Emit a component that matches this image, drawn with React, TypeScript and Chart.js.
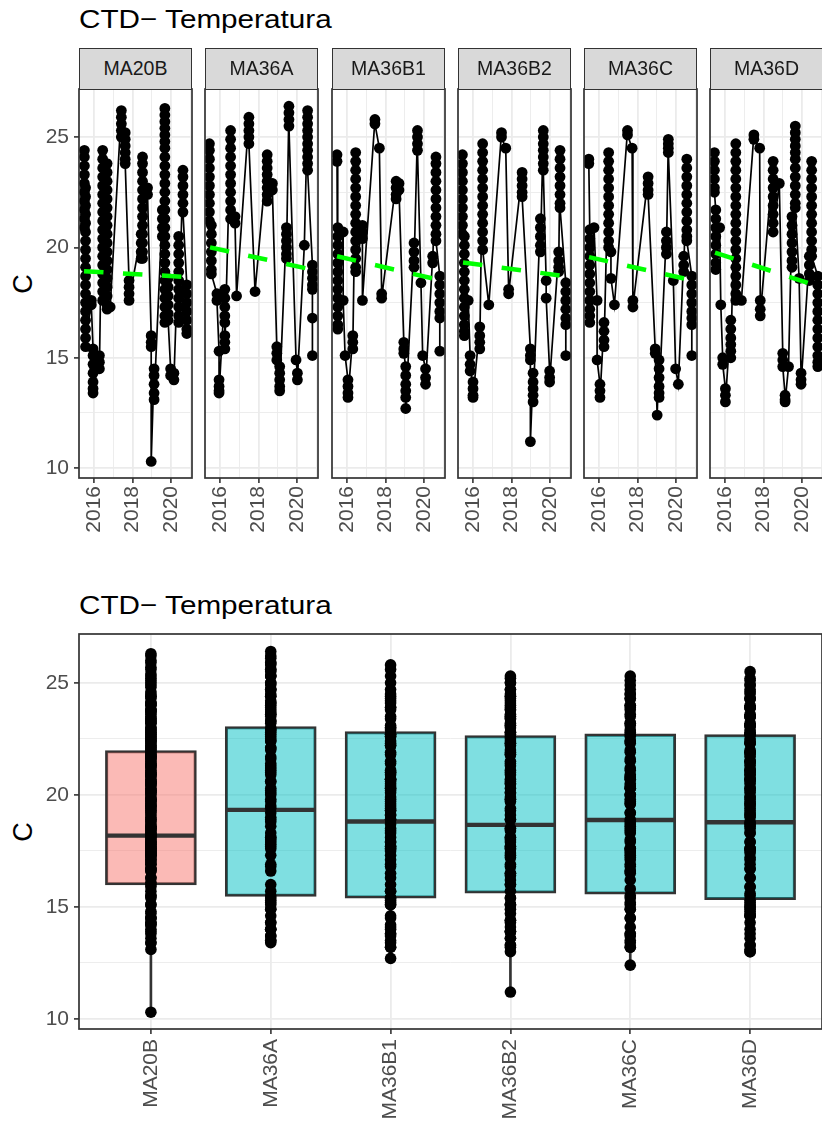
import React, { useEffect, useRef } from 'react';
import { Chart, registerables } from 'chart.js';

Chart.register(...registerables);

const FONT = '"Liberation Sans", Arial, Helvetica, sans-serif';

const stations = ['MA20B', 'MA36A', 'MA36B1', 'MA36B2', 'MA36C', 'MA36D'];
const titleText = 'CTD\u2212 Temperatura';
const yAxisTitle = 'C';

// ---- time series (decimal year of each CTD cast, temperatures of that cast) ----
const ma20bDates = [2015.50, 2015.56, 2015.86, 2015.95, 2016.28, 2016.45, 2016.68, 2016.84, 2017.42, 2017.62, 2017.82, 2018.45, 2018.52, 2018.78, 2018.97, 2019.12, 2019.55, 2019.68, 2019.85, 2019.98, 2020.15, 2020.40, 2020.62, 2020.82];
const ma20bTemps = [
  [24.4, 24.1, 23.7, 23.3, 22.9, 22.5, 22.1, 21.7, 21.3, 20.9],
  [22.7, 22.3, 21.9, 21.5, 21.1, 20.7, 20.3, 19.9, 19.5, 19.1, 18.7, 18.3, 17.9, 17.5, 17.1, 16.7, 16.3, 15.9, 15.5],
  [17.6, 17.4],
  [15.4, 15.1, 14.7, 14.3, 13.9, 13.6, 13.4],
  [15.1, 14.8, 14.5],
  [24.4, 24.0, 23.6, 23.2, 22.8, 22.4, 22.0, 21.6, 21.2, 20.8, 20.4, 20.0, 19.6, 19.2, 18.8, 18.4, 18.0, 17.6],
  [23.8, 23.4, 23.0, 22.6, 22.2, 21.8, 21.4, 21.0, 20.6, 20.2, 19.8, 19.4, 19.0, 18.6, 18.2, 17.8, 17.4, 17.2],
  [17.3],
  [26.2, 25.9, 25.6, 25.3, 25.0],
  [25.2, 24.9, 24.6, 24.3, 24.0, 23.8],
  [18.5, 18.2, 17.9, 17.6],
  [20.6, 20.2, 19.8, 19.5],
  [24.1, 23.8, 23.4, 23.0, 22.6, 22.2, 21.8, 21.4, 21.0, 20.6, 20.2, 19.8, 19.5],
  [22.7, 22.4],
  [16.0, 15.7, 15.5, 10.3],
  [14.5, 14.2, 13.8, 13.4, 13.1],
  [21.7, 21.3, 20.9, 20.5],
  [26.3, 26.0, 25.7, 25.4, 25.1, 24.8, 24.5, 24.1, 23.7, 23.3, 22.9, 22.5, 22.1, 21.7, 21.3, 20.9, 20.5, 20.1, 19.7, 19.3, 18.9, 18.5, 18.1, 17.7, 17.3, 16.9, 16.6],
  [18.6, 18.2, 17.8, 17.4, 17.0, 16.7],
  [14.5, 14.2],
  [14.3, 14.0],
  [20.5, 20.1, 19.7, 19.3, 18.9, 18.5, 18.1, 17.7, 17.3, 16.9, 16.6],
  [23.5, 23.2, 22.8, 22.4, 22.0, 21.6],
  [18.3, 17.9, 17.5, 17.1, 16.7, 16.3, 16.1],
];

const ma36aDates = [2015.45, 2015.55, 2015.84, 2015.95, 2016.25, 2016.55, 2016.78, 2016.86, 2017.50, 2017.82, 2018.45, 2018.72, 2018.95, 2019.10, 2019.45, 2019.58, 2019.95, 2020.02, 2020.38, 2020.55, 2020.80];
const ma36aTemps = [
  [24.7, 24.4, 24.0, 23.6, 23.2, 22.8, 22.4, 22.0, 21.6, 21.2],
  [21.0, 20.6, 20.2, 19.8, 19.4, 19.0, 18.8],
  [17.9, 17.6],
  [15.3, 14.0, 13.7, 13.5, 13.4],
  [18.1, 17.7, 17.3, 16.9, 16.6, 16.0, 15.7, 15.4],
  [25.3, 24.9, 24.5, 24.1, 23.7, 23.3, 22.9, 22.5, 22.1, 21.7, 21.3],
  [21.4, 21.1],
  [17.8],
  [25.9, 25.6, 25.3, 25.0, 24.7],
  [18.0],
  [24.2, 23.9, 23.6, 23.3, 23.0, 22.7, 22.4, 22.1],
  [22.9, 22.6],
  [15.5, 15.2, 14.9],
  [14.6, 14.3, 14.0, 13.7, 13.5],
  [20.9, 20.6, 20.3, 20.0, 19.7, 19.5],
  [26.4, 26.1, 25.8, 25.5],
  [14.9],
  [14.3, 14.0],
  [20.1],
  [26.2, 25.9, 25.6, 25.3, 25.0, 24.7, 24.4, 24.1, 23.8, 23.5],
  [19.2, 18.9, 18.6, 18.3, 18.1, 16.8, 15.1],
];

const ma36b1Dates = [2015.48, 2015.52, 2015.80, 2015.90, 2016.05, 2016.30, 2016.45, 2016.80, 2017.45, 2017.68, 2017.80, 2018.55, 2018.70, 2018.95, 2019.05, 2019.48, 2019.66, 2019.84, 2019.93, 2020.08, 2020.45, 2020.62, 2020.82];
const ma36b1Temps = [
  [24.2, 23.9],
  [20.9, 20.5, 20.1, 19.7, 19.3, 18.9, 18.5, 18.1, 17.7, 17.3, 16.9, 16.5, 16.3],
  [20.7, 17.6],
  [15.1],
  [14.0, 13.7, 13.4, 13.2],
  [16.0, 15.7, 15.4],
  [24.3, 23.9, 23.5, 23.1, 22.7, 22.3, 21.9, 21.5, 21.1, 20.7, 20.3, 19.9, 19.5, 19.1, 18.9],
  [21.0, 20.7, 20.4, 17.6],
  [25.8, 25.6],
  [24.5],
  [17.9, 17.7],
  [23.0, 22.7, 22.4, 22.2],
  [22.9, 22.6],
  [15.7, 15.4, 15.2],
  [14.6, 14.2, 13.8, 13.5, 13.2, 12.7],
  [20.2, 19.8, 19.4, 19.1],
  [25.3, 25.0, 24.7, 24.4],
  [18.4],
  [15.1],
  [14.5, 14.1, 13.8],
  [19.6, 19.3],
  [24.1, 23.8, 23.4, 23.0, 22.6, 22.2, 21.8, 21.4, 21.0, 20.6, 20.3],
  [18.7, 18.3, 17.9, 17.5, 17.1, 16.8, 15.3],
];

const ma36b2Dates = [2015.45, 2015.55, 2015.75, 2015.85, 2016.00, 2016.35, 2016.50, 2016.82, 2017.48, 2017.70, 2017.85, 2018.55, 2018.98, 2019.12, 2019.50, 2019.65, 2019.80, 2019.98, 2020.45, 2020.52, 2020.82];
const ma36b2Temps = [
  [24.2, 23.8, 23.4, 23.0, 22.6, 22.2, 21.8, 21.4, 21.0, 20.6],
  [20.5, 20.1, 19.7, 19.3, 18.9, 18.5, 18.1, 17.7, 17.3, 16.9, 16.5, 16.2, 16.0],
  [17.6],
  [15.1, 14.7, 14.4],
  [13.9, 13.6, 13.3, 13.2],
  [16.4, 16.0, 15.7, 15.4],
  [24.7, 24.3, 23.9, 23.5, 23.1, 22.7, 22.3, 21.9, 21.5, 21.1, 20.7, 20.3, 19.9],
  [17.4],
  [25.2, 25.0],
  [24.5],
  [18.1, 17.9],
  [23.4, 23.1, 22.8, 22.5, 22.3],
  [15.4, 15.1, 14.9, 11.2],
  [14.3, 13.9, 13.6, 13.3, 13.0],
  [21.3, 20.9, 20.5, 20.1, 19.8],
  [25.3, 25.0, 24.7, 24.4, 24.1, 23.8, 23.5],
  [18.5, 17.7],
  [14.4, 14.1, 13.9],
  [19.8, 19.4, 19.1, 18.9],
  [24.4, 24.0, 23.6, 23.2, 22.8, 22.4, 22.0, 21.8],
  [18.4, 18.0, 17.6, 17.2, 16.8, 16.5, 15.1],
];

const ma36cDates = [2015.47, 2015.52, 2015.74, 2015.90, 2016.05, 2016.26, 2016.50, 2016.62, 2016.80, 2017.48, 2017.72, 2017.76, 2018.55, 2018.92, 2019.02, 2019.12, 2019.50, 2019.60, 2019.86, 2019.98, 2020.12, 2020.40, 2020.56, 2020.82];
const ma36cTemps = [
  [24.0, 23.8],
  [20.8, 20.4, 20.0, 19.6, 19.2, 18.8, 18.4, 18.0, 17.6, 17.2, 16.9, 16.6],
  [20.9],
  [17.6, 14.9],
  [13.8, 13.5, 13.2],
  [16.6, 16.2, 15.8, 15.5],
  [24.3, 23.9, 23.5, 23.1, 22.7, 22.3, 21.9, 21.5, 21.1, 20.7, 20.3, 20.0],
  [19.8, 18.6],
  [17.4],
  [25.3, 25.1],
  [24.5],
  [17.6, 17.3],
  [23.2, 22.9, 22.6, 22.4],
  [15.4, 15.2],
  [12.4],
  [14.9, 14.5, 14.1, 13.7, 13.4, 13.2],
  [20.7, 20.3, 20.0, 19.7],
  [24.9, 24.7, 24.5, 24.3],
  [18.5],
  [14.5],
  [13.8],
  [19.6, 19.2, 18.9],
  [24.0, 23.6, 23.2, 22.8, 22.4, 22.0, 21.6, 21.2, 20.8, 20.5, 20.3],
  [18.7, 18.3, 17.9, 17.5, 17.1, 16.8, 16.5, 15.1],
];

const ma36dDates = [2015.45, 2015.52, 2015.72, 2015.78, 2015.88, 2016.02, 2016.30, 2016.56, 2016.85, 2017.50, 2017.80, 2017.83, 2018.50, 2018.82, 2019.00, 2019.12, 2019.30, 2019.48, 2019.65, 2019.85, 2019.95, 2020.38, 2020.50, 2020.82];
const ma36dTemps = [
  [24.3, 23.9, 23.5, 23.1, 22.7, 22.5],
  [21.7, 21.3, 20.9, 20.5, 20.1, 19.7, 19.3, 19.0],
  [20.9],
  [17.4],
  [15.0, 14.7],
  [13.6, 13.3, 13.0],
  [16.7, 16.3, 15.9, 15.6, 15.3, 15.0],
  [24.7, 24.3, 23.9, 23.5, 23.1, 22.7, 22.3, 21.9, 21.5, 21.1, 20.7, 20.3, 19.9, 19.5, 19.1, 18.7, 18.3, 17.9, 17.6],
  [17.6],
  [25.1, 24.9],
  [24.5],
  [17.6, 17.2, 16.9],
  [23.9, 23.5, 23.1, 22.7, 22.3, 21.9, 21.5, 21.1, 20.7],
  [22.9],
  [15.2, 14.9, 14.6],
  [13.3, 13.1, 13.0],
  [14.6],
  [21.4, 21.0, 20.6, 20.2, 19.8, 19.4, 19.1],
  [25.5, 25.2, 24.9, 24.6, 24.3, 24.0, 23.6, 23.2, 22.8, 22.4, 22.0, 21.8],
  [18.6],
  [14.3, 14.0, 13.8],
  [19.6, 19.2, 18.8, 18.5],
  [23.9, 23.5, 23.1, 22.7, 22.3, 21.9, 21.5, 21.1, 20.7, 20.3, 19.9, 19.6],
  [18.7, 18.3, 17.9, 17.5, 17.1, 16.7, 16.3, 15.9, 15.5, 15.1, 14.8, 14.6],
];

const stationDates = [ma20bDates, ma36aDates, ma36b1Dates, ma36b2Dates, ma36cDates, ma36dDates];
const stationTemps = [ma20bTemps, ma36aTemps, ma36b1Temps, ma36b2Temps, ma36cTemps, ma36dTemps];

// ---- linear trend (green dashed), value at first and last cast ----
const trendYears = [2015.48, 2020.82];
const trendStart = [18.92, 20.0, 19.6, 19.32, 19.56, 19.76];
const trendEnd = [18.66, 18.99, 18.52, 18.69, 18.51, 18.25];

// ---- boxplot statistics ----
const boxMin = [10.3, 13.4, 12.7, 11.2, 12.4, 13.0];
const boxQ1 = [15.98, 15.47, 15.39, 15.61, 15.57, 15.32];
const boxMedian = [18.18, 19.33, 18.81, 18.66, 18.88, 18.78];
const boxQ3 = [21.98, 23.05, 22.83, 22.65, 22.72, 22.69];
const boxMax = [26.3, 26.4, 25.8, 25.3, 25.3, 25.5];
const boxFill = ['rgba(248,118,109,0.5)', 'rgba(0,191,196,0.5)', 'rgba(0,191,196,0.5)', 'rgba(0,191,196,0.5)', 'rgba(0,191,196,0.5)', 'rgba(0,191,196,0.5)'];

// ---- axes ----
const yMajorTicks = [10, 15, 20, 25];
const yMinorTicks = [12.5, 17.5, 22.5];
const yearMajorTicks = [2016, 2018, 2020];
const yearMinorTicks = [2017, 2019, 2021];
const yRange = [9.55, 27.18];
const yearRange = [2015.22, 2021.09];
const catRange = [-0.6, 5.6];

// ---- layout ----
const panelLefts = [79, 205, 332, 458, 584, 710];
const panelWidth = 113;
const AXIS_W = 79;
const PAD_TOP = 30;
const TICK_FONT = 21;

const TICK_COLOR = '#4D4D4D';
const DARK = '#333333';
const GRID = '#EBEBEB';

function zeroPad(s: any) {
  s.paddingTop = 0;
  s.paddingBottom = 0;
  s.paddingLeft = 0;
  s.paddingRight = 0;
}

const borderPlugin = {
  id: 'panelBorder',
  afterDatasetsDraw(chart: any) {
    const { ctx, chartArea: a } = chart;
    ctx.save();
    ctx.strokeStyle = DARK;
    ctx.lineWidth = 1.7;
    ctx.strokeRect(a.left, a.top, a.right - a.left, a.bottom - a.top);
    ctx.restore();
  },
};

function yAxis(showLabels: boolean) {
  const all = [...yMajorTicks, ...yMinorTicks].sort((a, b) => a - b);
  const isMajor = (c: any) => !!c.tick && yMajorTicks.includes(c.tick.value);
  return {
    type: 'linear',
    min: yRange[0],
    max: yRange[1],
    afterBuildTicks: (s: any) => {
      s.ticks = all.map((v) => ({ value: v }));
    },
    ticks: {
      display: showLabels,
      padding: 5,
      color: TICK_COLOR,
      font: { family: FONT, size: TICK_FONT },
      callback: (v: any) => (yMajorTicks.includes(v) ? String(v) : ''),
    },
    grid: {
      color: GRID,
      lineWidth: (c: any) => (isMajor(c) ? 1.8 : 0.9),
      drawTicks: showLabels,
      tickLength: 5,
      tickWidth: 1.6,
      tickColor: (c: any) => (isMajor(c) ? DARK : 'rgba(0,0,0,0)'),
    },
    border: { display: false },
    afterFit: (s: any) => {
      s.width = AXIS_W;
      zeroPad(s);
    },
  };
}

function yearAxis(height: number) {
  const all = [...yearMajorTicks, ...yearMinorTicks].sort((a, b) => a - b);
  const isMajor = (c: any) => !!c.tick && yearMajorTicks.includes(c.tick.value);
  return {
    type: 'linear',
    min: yearRange[0],
    max: yearRange[1],
    afterBuildTicks: (s: any) => {
      s.ticks = all.map((v) => ({ value: v }));
    },
    ticks: {
      autoSkip: false,
      maxRotation: 90,
      minRotation: 90,
      padding: 3,
      color: TICK_COLOR,
      font: { family: FONT, size: TICK_FONT },
      callback: (v: any) => (yearMajorTicks.includes(v) ? String(v) : ''),
    },
    grid: {
      color: GRID,
      lineWidth: (c: any) => (isMajor(c) ? 1.8 : 0.9),
      tickLength: 5,
      tickWidth: 1.6,
      tickColor: (c: any) => (isMajor(c) ? DARK : 'rgba(0,0,0,0)'),
    },
    border: { display: false },
    afterFit: (s: any) => {
      s.height = height;
      zeroPad(s);
    },
  };
}

const PANEL_CANVAS_TOP = 89 - PAD_TOP;
const PANEL_CANVAS_H = 548 - PANEL_CANVAS_TOP;
const PANEL_CANVAS_W = AXIS_W + panelWidth + 30;

const commonOptions = {
  animation: false,
  responsive: false,
  maintainAspectRatio: false,
  events: [],
  plugins: { legend: { display: false }, tooltip: { enabled: false }, title: { display: false } },
};

function panelConfig(idx: number) {
  const dates = stationDates[idx];
  const temps = stationTemps[idx];
  const pts: { x: number; y: number }[] = [];
  dates.forEach((d, i) => temps[i].forEach((v) => pts.push({ x: d, y: v })));
  return {
    type: 'scatter',
    data: {
      datasets: [
        {
          data: [
            { x: trendYears[0], y: trendStart[idx] },
            { x: trendYears[1], y: trendEnd[idx] },
          ],
          showLine: true,
          borderColor: '#00FF00',
          borderWidth: 4.5,
          borderDash: [19.5, 19.5],
          borderCapStyle: 'butt',
          pointRadius: 0,
          order: 0,
        },
        {
          data: pts,
          showLine: true,
          borderColor: '#000000',
          borderWidth: 1.7,
          pointRadius: 5.4,
          pointBackgroundColor: '#000000',
          pointBorderWidth: 0,
          order: 1,
        },
      ],
    },
    options: {
      ...commonOptions,
      layout: { autoPadding: false, padding: { top: PAD_TOP, right: 30, left: 0, bottom: 0 } },
      scales: {
        x: yearAxis(PANEL_CANVAS_H - PAD_TOP - (478 - 89)),
        y: yAxis(idx === 0),
      },
    },
    plugins: [borderPlugin],
  };
}

const BOX_CANVAS_TOP = 634 - PAD_TOP;
const BOX_CANVAS_H = 1124 - BOX_CANVAS_TOP;
const BOX_CANVAS_W = 822;

function boxConfig() {
  const pts: { x: number; y: number }[] = [];
  stationTemps.forEach((casts, i) => casts.forEach((cast) => cast.forEach((v) => pts.push({ x: i, y: v }))));
  return {
    type: 'bar',
    data: {
      datasets: [
        {
          type: 'scatter',
          data: pts,
          pointRadius: 5.8,
          pointBackgroundColor: '#000000',
          pointBorderWidth: 0,
          order: 0,
        },
        {
          type: 'scatter',
          data: stations.map((_, i) => ({ x: i, y: boxMedian[i] })),
          pointStyle: 'line',
          pointRadius: 45,
          pointBorderColor: DARK,
          pointBorderWidth: 4.4,
          order: 1,
        },
        {
          type: 'bar',
          data: stations.map((_, i) => ({ x: i, y: [boxQ1[i], boxQ3[i]] })),
          backgroundColor: boxFill,
          borderColor: DARK,
          borderWidth: 2.4,
          borderSkipped: false,
          barThickness: 91,
          grouped: false,
          order: 2,
        },
        {
          type: 'bar',
          data: stations.map((_, i) => ({ x: i, y: [boxMin[i], boxQ1[i]] })),
          backgroundColor: DARK,
          barThickness: 2,
          grouped: false,
          order: 3,
        },
        {
          type: 'bar',
          data: stations.map((_, i) => ({ x: i, y: [boxQ3[i], boxMax[i]] })),
          backgroundColor: DARK,
          barThickness: 2,
          grouped: false,
          order: 3,
        },
      ],
    },
    options: {
      ...commonOptions,
      layout: { autoPadding: false, padding: { top: PAD_TOP, right: 0, left: 0, bottom: 0 } },
      scales: {
        x: {
          type: 'linear',
          min: catRange[0],
          max: catRange[1],
          offset: false,
          afterBuildTicks: (s: any) => {
            s.ticks = stations.map((_, i) => ({ value: i }));
          },
          ticks: {
            autoSkip: false,
            maxRotation: 90,
            minRotation: 90,
            padding: 5,
            color: TICK_COLOR,
            font: { family: FONT, size: TICK_FONT },
            callback: (v: any) => stations[v] ?? '',
          },
          grid: {
            color: GRID,
            lineWidth: 1.8,
            offset: false,
            tickLength: 5,
            tickWidth: 1.6,
            tickColor: DARK,
          },
          border: { display: false },
          afterFit: (s: any) => {
            s.height = BOX_CANVAS_H - PAD_TOP - (1029 - 634);
            zeroPad(s);
          },
        },
        y: yAxis(true),
      },
    },
    plugins: [borderPlugin],
  };
}

const titleStyle: React.CSSProperties = {
  position: 'absolute',
  left: 79,
  fontSize: 26.5,
  lineHeight: '26px',
  color: '#000000',
  whiteSpace: 'nowrap',
  fontFamily: FONT,
  transform: 'scaleX(1.12)',
  transformOrigin: 'left center',
};

const axisTitleStyle = (cy: number): React.CSSProperties => ({
  position: 'absolute',
  left: 23,
  top: cy,
  transform: 'translate(-50%, -50%) rotate(-90deg)',
  fontSize: 27,
  lineHeight: '27px',
  color: '#000000',
  fontFamily: FONT,
});

export default function App() {
  const panelRefs = useRef<(HTMLCanvasElement | null)[]>([]);
  const boxRef = useRef<HTMLCanvasElement | null>(null);

  useEffect(() => {
    const charts: Chart[] = [];
    panelRefs.current.forEach((c, i) => {
      if (c) charts.push(new Chart(c, panelConfig(i) as any));
    });
    if (boxRef.current) charts.push(new Chart(boxRef.current, boxConfig() as any));
    return () => charts.forEach((ch) => ch.destroy());
  }, []);

  return (
    <div
      style={{
        position: 'fixed',
        left: 0,
        top: 0,
        width: 822,
        height: 1124,
        overflow: 'hidden',
        background: '#FFFFFF',
        fontFamily: FONT,
      }}
    >
      <div style={{ ...titleStyle, top: 6 }}>{titleText}</div>
      <div style={axisTitleStyle(283.5)}>{yAxisTitle}</div>
      {stations.map((s, i) => (
        <canvas
          key={'c' + s}
          ref={(el) => {
            panelRefs.current[i] = el;
          }}
          width={PANEL_CANVAS_W}
          height={PANEL_CANVAS_H}
          style={{ position: 'absolute', left: panelLefts[i] - AXIS_W, top: PANEL_CANVAS_TOP }}
        />
      ))}
      {stations.map((s, i) => (
        <div
          key={'s' + s}
          style={{
            position: 'absolute',
            left: panelLefts[i],
            top: 48,
            width: panelWidth,
            height: 41.5,
            boxSizing: 'border-box',
            border: '1.6px solid ' + DARK,
            background: '#D9D9D9',
            color: '#1A1A1A',
            fontSize: 19.5,
            display: 'flex',
            alignItems: 'center',
            justifyContent: 'center',
            fontFamily: FONT,
          }}
        >
          {s}
        </div>
      ))}
      <div style={{ ...titleStyle, top: 592 }}>{titleText}</div>
      <div style={axisTitleStyle(831.5)}>{yAxisTitle}</div>
      <canvas
        ref={boxRef}
        width={BOX_CANVAS_W}
        height={BOX_CANVAS_H}
        style={{ position: 'absolute', left: 0, top: BOX_CANVAS_TOP }}
      />
    </div>
  );
}
